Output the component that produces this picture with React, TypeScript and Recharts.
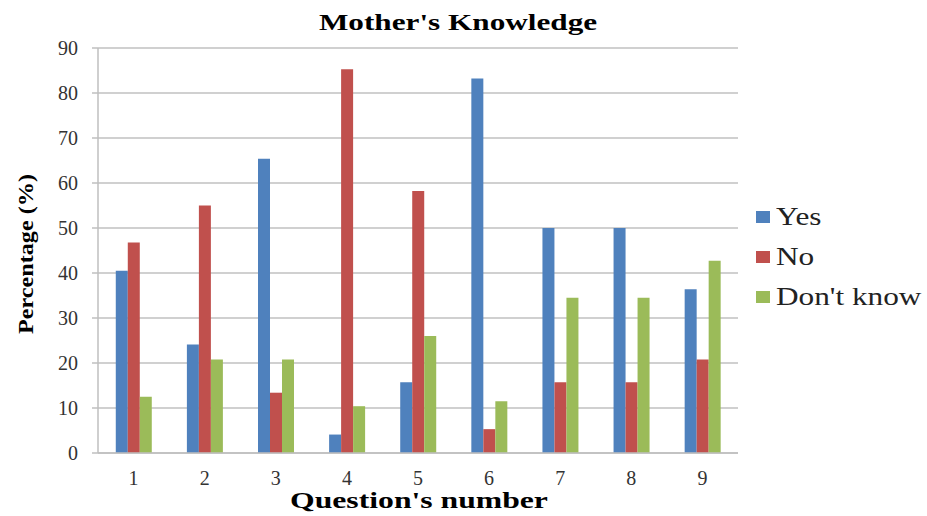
import React from "react";
import { BarChart, Bar, XAxis, YAxis, CartesianGrid } from "recharts";

const questions = ["1", "2", "3", "4", "5", "6", "7", "8", "9"];
const yes = [40.5, 24.1, 65.4, 4.1, 15.7, 83.2, 50, 50, 36.4];
const no = [46.8, 55.0, 13.4, 85.3, 58.2, 5.3, 15.7, 15.7, 20.8];
const dontKnow = [12.5, 20.8, 20.8, 10.4, 26.0, 11.5, 34.5, 34.5, 42.7];
const yTicks = [0, 10, 20, 30, 40, 50, 60, 70, 80, 90];
const seriesNames = ["Yes", "No", "Don't know"];
const seriesColors = ["#4F81BD", "#C0504D", "#9BBB59"];

const data = questions.map((q, i) => ({
  q,
  Yes: yes[i],
  No: no[i],
  "Don't know": dontKnow[i],
}));

const serif = "'Liberation Serif', 'Times New Roman', Times, serif";

const YTick = (props: any) => {
  const { x, y, payload } = props;
  return (
    <text x={x} y={y} dy={7} textAnchor="end" fill="#333" fontSize={20} style={{ fontFamily: serif }}>
      {payload.value}
    </text>
  );
};

const XTick = (props: any) => {
  const { x, y, payload } = props;
  return (
    <text x={x} y={y} dy={18} textAnchor="middle" fill="#333" fontSize={20} style={{ fontFamily: serif }}>
      {payload.value}
    </text>
  );
};

export default function App() {
  return (
    <div style={{ position: "absolute", left: 0, top: 0, width: 927, height: 516, background: "#fff", fontFamily: serif }}>
      <div style={{ position: "absolute", left: 458, top: 9, transform: "translateX(-50%) scaleX(1.3)", fontWeight: "bold", fontSize: 24, color: "#000", whiteSpace: "nowrap" }}>
        Mother's Knowledge
      </div>
      <BarChart
        width={927}
        height={516}
        data={data}
        margin={{ top: 48, right: 189, left: 0, bottom: 33 }}
        barCategoryGap="25%"
        barGap={0}
      >
        <CartesianGrid vertical={false} stroke="#c0c0c0" strokeWidth={1.5} />
        <XAxis
          dataKey="q"
          height={30}
          axisLine={{ stroke: "#bfbfbf", strokeWidth: 1.5 }}
          tickLine={false}
          tick={<XTick />}
          tickMargin={8}
        />
        <YAxis
          width={98}
          domain={[0, 90]}
          ticks={yTicks}
          interval={0}
          axisLine={{ stroke: "#bfbfbf", strokeWidth: 1.5 }}
          tickLine={{ stroke: "#bfbfbf", strokeWidth: 1.5 }}
          tickSize={6}
          tickMargin={14}
          tick={<YTick />}
        />
        <Bar dataKey="Yes" fill={seriesColors[0]} isAnimationActive={false} />
        <Bar dataKey="No" fill={seriesColors[1]} isAnimationActive={false} />
        <Bar dataKey="Don't know" fill={seriesColors[2]} isAnimationActive={false} />
      </BarChart>
      <div style={{ position: "absolute", left: 756, top: 197 }}>
        {seriesNames.map((name, i) => (
          <div key={name} style={{ display: "flex", alignItems: "center", height: 40 }}>
            <span style={{ display: "inline-block", width: 14, height: 12, background: seriesColors[i], marginRight: 6 }} />
            <span style={{ fontSize: 25, color: "#222", whiteSpace: "nowrap", display: "inline-block", transform: "scaleX(1.25)", transformOrigin: "left center" }}>{name}</span>
          </div>
        ))}
      </div>
      <div style={{ position: "absolute", left: 419, top: 487, transform: "translateX(-50%) scaleX(1.32)", fontWeight: "bold", fontSize: 24, whiteSpace: "nowrap", color: "#000" }}>
        Question's number
      </div>
      <div style={{ position: "absolute", left: 26, top: 254, transform: "translate(-50%, -50%) rotate(-90deg) scaleX(1.1)", fontWeight: "bold", fontSize: 22, whiteSpace: "nowrap", color: "#000" }}>
        Percentage (%)
      </div>
    </div>
  );
}
